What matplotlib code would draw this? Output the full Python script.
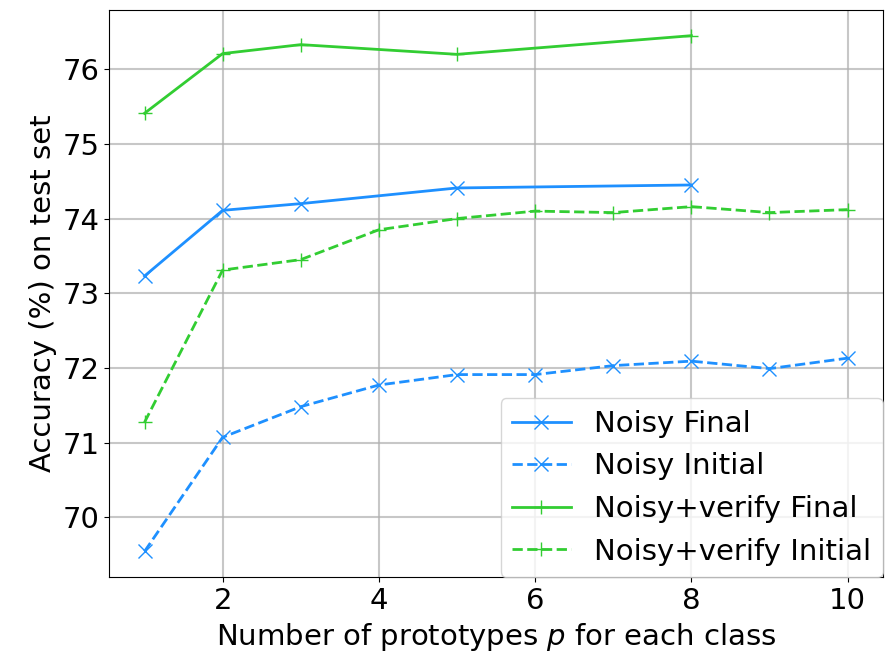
import numpy as np
import matplotlib
matplotlib.use('Agg')
import matplotlib.pyplot as plt

# Acurácia no conjunto de teste para cada número de protótipos
p_final = [1, 2, 3, 5, 8]
p_initial = [1, 2, 3, 4, 5, 6, 7, 8, 9, 10]

noisy_final = [73.23, 74.11, 74.20, 74.41, 74.45]
noisy_initial = [69.54, 71.07, 71.48, 71.77, 71.91, 71.91, 72.03, 72.09, 71.99, 72.13]
verify_final = [75.41, 76.21, 76.33, 76.20, 76.45]
verify_initial = [71.27, 73.31, 73.45, 73.85, 74.00, 74.10, 74.08, 74.16, 74.08, 74.12]

azul = 'dodgerblue'
verde = 'limegreen'

fig, ax = plt.subplots(figsize=(8.89, 6.59), dpi=100)

ax.plot(p_final, noisy_final, '-', marker='x', color=azul, lw=2, ms=10, label='Noisy Final')
ax.plot(p_initial, noisy_initial, '--', marker='x', color=azul, lw=2, ms=10, label='Noisy Initial')
ax.plot(p_final, verify_final, '-', marker='+', color=verde, lw=2, ms=10, label='Noisy+verify Final')
ax.plot(p_initial, verify_initial, '--', marker='+', color=verde, lw=2, ms=10, label='Noisy+verify Initial')

ax.set_xticks([2, 4, 6, 8, 10])
ax.tick_params(labelsize=21)
ax.set_xlabel('Number of prototypes $p$ for each class', fontsize=21)
ax.set_ylabel('Accuracy (%) on test set', fontsize=21)
ax.grid(True, color='#b0b0b0', lw=1.5, alpha=0.7)
ax.legend(loc='lower right', fontsize=21, borderaxespad=0)

fig.subplots_adjust(left=0.123, right=0.993, top=0.985, bottom=0.124)
fig.savefig('out.png', dpi=100)
